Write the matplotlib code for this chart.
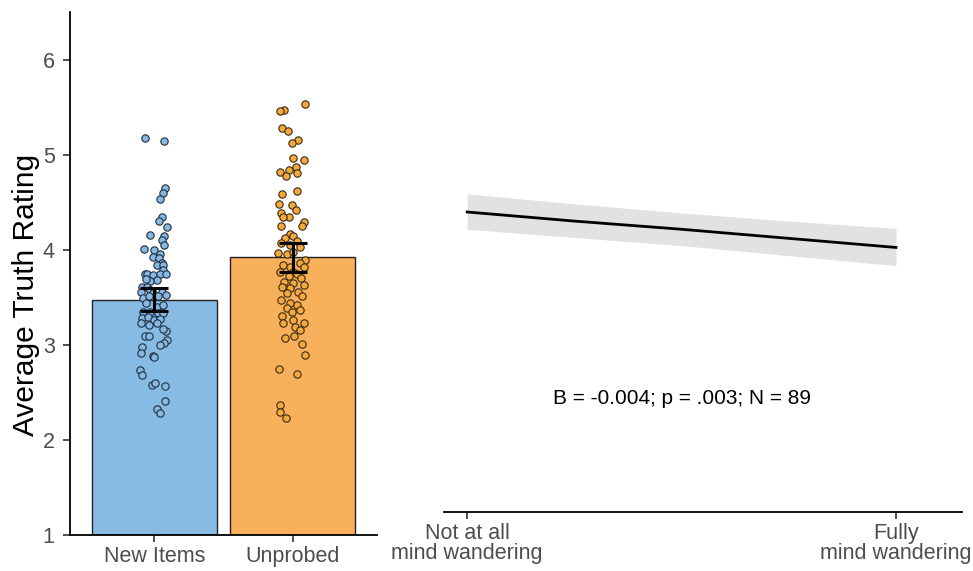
import numpy as np
import matplotlib
matplotlib.use('Agg')
import matplotlib.pyplot as plt

plt.rcParams['font.family'] = ['Liberation Sans', 'DejaVu Sans']

# ---------------- data ----------------
conditions = ['New Items', 'Unprobed']
means = [3.47, 3.92]
ci_low = [3.36, 3.77]
ci_high = [3.60, 4.07]

# individual participant means and their horizontal jitter
new_vals = [5.17, 5.14, 4.65, 4.60, 4.53, 4.34, 4.30, 4.24, 4.16, 4.14, 4.10, 4.05,
            4.01, 4.00, 3.96, 3.92, 3.91, 3.86, 3.84, 3.84, 3.79, 3.74, 3.74, 3.73,
            3.75, 3.74, 3.68, 3.67, 3.69, 3.61, 3.61, 3.58, 3.56, 3.55, 3.56, 3.52,
            3.49, 3.51, 3.51, 3.44, 3.40, 3.42, 3.35, 3.34, 3.33, 3.33, 3.28, 3.29,
            3.26, 3.27, 3.23, 3.21, 3.23, 3.15, 3.17, 3.09, 3.09, 3.05, 3.02, 3.00,
            2.98, 2.91, 2.88, 2.87, 2.74, 2.68, 2.58, 2.60, 2.57, 2.41, 2.32, 2.28]
new_jit = [-0.069, 0.071, 0.078, 0.064, 0.040, 0.052, 0.035, 0.091, -0.033, 0.069, 0.052, 0.071,
           -0.074, -0.001, 0.040, -0.013, 0.033, 0.052, 0.016, 0.064, 0.059, -0.069, -0.052, -0.013,
           0.040, 0.083, 0.016, -0.028, -0.057, -0.088, -0.052, -0.033, -0.093, -0.008, 0.052, 0.083,
           -0.081, -0.042, 0.028, -0.057, 0.016, 0.064, -0.081, -0.033, 0.028, 0.064, -0.088, -0.045,
           -0.004, 0.040, -0.093, -0.038, 0.016, 0.083, 0.059, -0.066, -0.038, 0.088, 0.069, 0.040,
           -0.086, -0.093, -0.013, -0.001, -0.105, -0.086, -0.020, 0.004, 0.076, 0.076, 0.016, 0.040]

unprobed_vals = [5.53, 5.47, 5.46, 5.28, 5.25, 5.15, 5.12, 4.96, 4.94, 4.82, 4.84, 4.87,
                 4.78, 4.81, 4.62, 4.59, 4.48, 4.47, 4.42, 4.39, 4.34, 4.34, 4.29, 4.25,
                 4.25, 4.17, 4.14, 4.12, 4.09, 4.07, 4.05, 4.03, 3.97, 3.96, 3.98, 3.89,
                 3.86, 3.84, 3.82, 3.82, 3.77, 3.77, 3.75, 3.72, 3.70, 3.66, 3.65, 3.63,
                 3.60, 3.61, 3.56, 3.54, 3.51, 3.47, 3.44, 3.42, 3.39, 3.37, 3.34, 3.30,
                 3.26, 3.23, 3.23, 3.19, 3.16, 3.07, 3.09, 3.01, 2.89, 2.75, 2.69, 2.37,
                 2.29, 2.23]
unprobed_jit = [0.086, -0.062, -0.091, -0.079, -0.030, 0.042, -0.006, -0.001, 0.084, -0.091, -0.028, 0.021,
                -0.047, 0.035, 0.030, -0.079, -0.098, -0.008, 0.023, -0.083, -0.023, -0.071, 0.079, 0.071,
                -0.083, -0.018, 0.006, -0.054, 0.035, -0.086, -0.018, 0.050, -0.103, -0.042, 0.006, 0.091,
                0.054, -0.071, -0.018, 0.079, -0.091, 0.006, 0.035, -0.023, 0.059, -0.059, 0.006, 0.079,
                -0.018, -0.079, 0.042, -0.042, 0.066, -0.083, -0.018, 0.030, -0.042, 0.054, -0.006, -0.079,
                0.006, -0.071, 0.079, 0.018, 0.054, -0.054, 0.011, 0.066, 0.091, -0.098, 0.030, -0.091,
                -0.091, -0.047]

# regression line of truth rating on mind wandering (0-100)
mw_x = [0, 25, 50, 75, 100]
mw_fit = [4.30, 4.20, 4.11, 4.01, 3.91]
mw_lower = [4.11, 4.02, 3.93, 3.82, 3.71]
mw_upper = [4.50, 4.39, 4.29, 4.20, 4.12]
stats_text = 'B = -0.004; p = .003; N = 89'

bar_colors = ['#88BBE4', '#F9B05A']
pt_colors = ['#86B8E2', '#F4A93F']
axis_grey = '#4D4D4D'

fig = plt.figure(figsize=(9.73, 5.71), dpi=100)

# ---------------- left panel ----------------
ax1 = fig.add_axes([70/973, 1-535/571, 307/973, 523/571])
xpos = np.arange(1, len(conditions)+1)
ax1.bar(xpos, np.array(means) - 1, bottom=1, width=0.9, color=bar_colors,
        edgecolor='#222222', linewidth=1.0, zorder=1)
groups = [(new_vals, new_jit), (unprobed_vals, unprobed_jit)]
for i, (vals, jit) in enumerate(groups):
    ax1.scatter(xpos[i] + np.array(jit), vals, s=28, color=pt_colors[i],
                edgecolor='#1F2F3F' if i == 0 else '#3A2A10', linewidth=0.8, zorder=2)
yerr = [np.array(means) - np.array(ci_low), np.array(ci_high) - np.array(means)]
ax1.errorbar(xpos, means, yerr=yerr, fmt='none', ecolor='black', elinewidth=2.2,
             capsize=10, capthick=2.2, zorder=3)
ax1.set_xlim(0.39, 2.61)
ax1.set_ylim(1, 6.5)
ax1.set_yticks([1, 2, 3, 4, 5, 6])
ax1.set_xticks(xpos)
ax1.set_xticklabels(conditions)
ax1.set_ylabel('Average Truth Rating', fontsize=21.5)
ax1.yaxis.set_label_coords(-0.098, 0.459)
ax1.spines['top'].set_visible(False)
ax1.spines['right'].set_visible(False)
for s in ['left', 'bottom']:
    ax1.spines[s].set_linewidth(1.3)
ax1.tick_params(axis='both', labelsize=15.5, labelcolor=axis_grey, length=5, width=1.2,
                color='#333333', pad=3)
ax1.tick_params(axis='y', pad=6)

# ---------------- right panel ----------------
ax2 = fig.add_axes([444/973, 1-512/571, 518/973, 500/571])
ax2.fill_between(mw_x, mw_lower, mw_upper, color='#E2E2E2', linewidth=0, zorder=1)
ax2.plot(mw_x, mw_fit, color='black', linewidth=2, zorder=2)
ax2.text(50, 2.25, stats_text, ha='center', va='center', fontsize=15, color='black')
ax2.set_xlim(-5.4, 115.4)
ax2.set_ylim(1, 6.5)
ax2.set_xticks([0, 100])
ax2.set_xticklabels(['Not at all\nmind wandering', 'Fully\nmind wandering'])
ax2.set_yticks([])
for s in ['top', 'right', 'left']:
    ax2.spines[s].set_visible(False)
ax2.spines['bottom'].set_linewidth(1.3)
ax2.tick_params(axis='x', labelsize=15.5, labelcolor=axis_grey, length=5, width=1.2,
                color='#333333', pad=3)
for lab in ax2.get_xticklabels():
    lab.set_linespacing(0.95)

fig.savefig('out.png', dpi=100)
